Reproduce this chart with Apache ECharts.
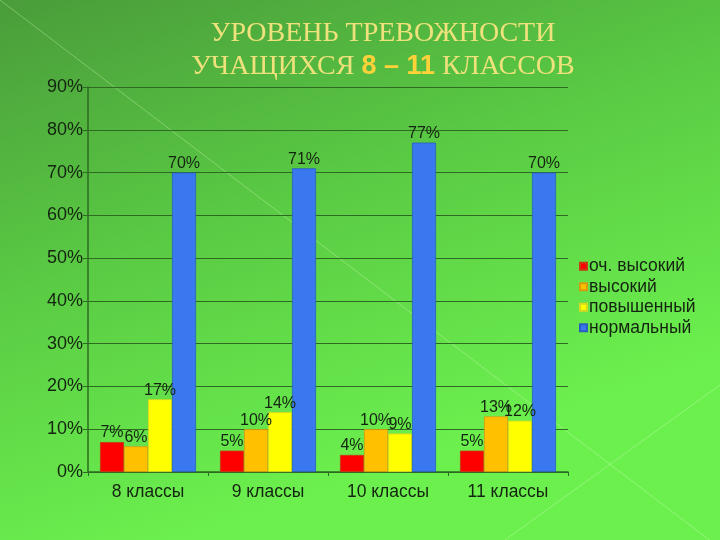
<!DOCTYPE html>
<html><head><meta charset="utf-8">
<script src="https://cdn.jsdelivr.net/npm/echarts@6/dist/echarts.min.js"></script>
<style>html,body{margin:0;padding:0;}#c{width:720px;height:540px;}</style>
</head><body><div id="c"></div>
<script>
const categories = ['8 классы', '9 классы', '10 классы', '11 классы'];
const seriesNames = ['оч. высокий', 'высокий', 'повышенный', 'нормальный'];
const vVeryHigh = [7, 5, 4, 5];
const vHigh = [6, 10, 10, 13];
const vRaised = [17, 14, 9, 12];
const vNormal = [70, 71, 77, 70];
const colors = ['#ff0000', '#ffc000', '#ffff00', '#3a78f0'];
const borders = ['#c83a10', '#d89a10', '#d8d820', '#2a5ec0'];
const yTicks = [0, 10, 20, 30, 40, 50, 60, 70, 80, 90];

const chart = echarts.init(document.getElementById('c'));
const dataSets = [vVeryHigh, vHigh, vRaised, vNormal];
chart.setOption({
  backgroundColor: {
    type: 'linear', x: 0, y: 0, x2: 0.25, y2: 1,
    colorStops: [{offset: 0, color: '#4a9c3a'}, {offset: 0.5, color: '#5acb44'}, {offset: 1, color: '#6cf04e'}]
  },
  graphic: [
    {type: 'line', silent: true, z: -1, shape: {x1: 0, y1: 0, x2: 720, y2: 548},
      style: {stroke: 'rgba(220,255,200,0.35)', lineWidth: 1}},
    {type: 'line', silent: true, z: -1, shape: {x1: 505, y1: 540, x2: 720, y2: 385},
      style: {stroke: 'rgba(220,255,200,0.35)', lineWidth: 1}}
  ],
  title: {
    text: 'УРОВЕНЬ ТРЕВОЖНОСТИ\n{a|УЧАЩИХСЯ }{b|8 – 11}{a| КЛАССОВ}',
    left: 378, top: 12, textAlign: 'center',
    textStyle: {
      fontFamily: 'Liberation Serif', fontSize: 28, fontWeight: 'normal', color: '#efe27c', lineHeight: 33,
      rich: {
        a: {fontFamily: 'Liberation Serif', fontSize: 28, color: '#efe27c', lineHeight: 33},
        b: {fontFamily: 'Liberation Sans', fontSize: 27, fontWeight: 'bold', color: '#ffd23a', lineHeight: 33}
      }
    }
  },
  legend: {
    orient: 'vertical', left: 574, top: 252, itemWidth: 7, itemHeight: 7, itemGap: 2,
    icon: 'rect', data: seriesNames,
    textStyle: {fontFamily: 'Liberation Sans', fontSize: 17.5, lineHeight: 18.5, color: '#142410', padding: [0, 0, 0, -3]}
  },
  grid: {left: 88, right: 152, top: 87, bottom: 68},
  xAxis: {
    type: 'category', data: categories,
    axisLine: {lineStyle: {color: '#2e6a22', width: 1.5}},
    axisTick: {show: true, inside: false, length: 4, lineStyle: {color: '#2e6a22'}},
    axisLabel: {fontFamily: 'Liberation Sans', fontSize: 17.5, color: '#142410', margin: 11}
  },
  yAxis: {
    type: 'value', min: 0, max: 90, interval: 10,
    axisLine: {show: true, lineStyle: {color: '#2e6a22', width: 1.5}},
    axisTick: {show: true, length: 5, lineStyle: {color: '#2e6a22'}},
    splitLine: {lineStyle: {color: '#2e6a22', width: 1.2}},
    axisLabel: {fontFamily: 'Liberation Sans', fontSize: 18, color: '#142410', margin: 5,
      formatter: v => yTicks.includes(v) ? v + '%' : ''}
  },
  series: seriesNames.map((n, i) => ({
    name: n, type: 'bar', data: dataSets[i], barGap: '0%', barCategoryGap: '20%',
    itemStyle: {color: colors[i], borderColor: borders[i], borderWidth: 0.8},
    label: {show: true, position: 'top', distance: 1, formatter: '{c}%',
      fontFamily: 'Liberation Sans', fontSize: 16, color: '#142410'}
  }))
});
</script></body></html>
